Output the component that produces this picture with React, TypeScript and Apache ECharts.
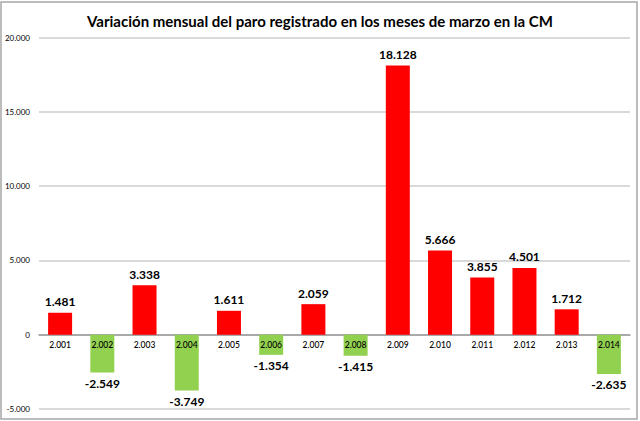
import React, { useEffect, useRef } from "react";
import * as echarts from "echarts";

const TITLE = "Variación mensual del paro registrado en los meses de marzo en la CM";
const categories = [
  "2.001", "2.002", "2.003", "2.004", "2.005", "2.006", "2.007",
  "2.008", "2.009", "2.010", "2.011", "2.012", "2.013", "2.014",
];
const values = [1481, -2549, 3338, -3749, 1611, -1354, 2059, -1415, 18128, 5666, 3855, 4501, 1712, -2635];
const yMin = -5000;
const yMax = 20000;
const yInterval = 5000;

const POS = "#FF0000";
const NEG = "#92D050";
const FONT = "Lato, 'Open Sans', sans-serif";

function fmt(v: number): string {
  const s = Math.abs(v).toString().replace(/\B(?=(\d{3})+(?!\d))/g, ".");
  return (v < 0 ? "-" : "") + s;
}

export default function App() {
  const ref = useRef<HTMLDivElement>(null);
  useEffect(() => {
    document.body.style.margin = "0";
    if (!ref.current) return;
    const chart = echarts.init(ref.current, undefined, { renderer: "svg" });
    chart.setOption({
      animation: false,
      backgroundColor: "#FFFFFF",
      title: {
        text: TITLE,
        left: "center",
        top: 8,
        textStyle: { fontFamily: FONT, fontSize: 15, fontWeight: "bold", color: "#000" },
      },
      grid: {
        left: 39,
        right: 10,
        top: 37.7,
        bottom: 12,
        containLabel: false,
        outerBoundsMode: "none",
      },
      xAxis: {
        type: "category",
        data: categories,
        axisLine: { onZero: true, lineStyle: { color: "#999999", width: 1.5 } },
        axisTick: { show: false },
        axisLabel: { show: false },
      },
      yAxis: {
        type: "value",
        min: yMin,
        max: yMax,
        interval: yInterval,
        axisLine: { show: false },
        axisTick: { show: false },
        splitLine: { lineStyle: { color: "#D9D9D9", width: 2 } },
        axisLabel: {
          fontFamily: FONT,
          fontSize: 8,
          color: "#000",
          margin: 9,
          formatter: (v: number) => fmt(v),
        },
      },
      series: [
        {
          type: "bar",
          barWidth: 24,
          data: values.map((v) => ({
            value: v,
            itemStyle: { color: v >= 0 ? POS : NEG },
            label: { position: v >= 0 ? "top" : "bottom" },
          })),
          label: {
            show: true,
            distance: 5,
            fontFamily: FONT,
            fontSize: 12,
            fontWeight: "bold",
            color: "#000",
            formatter: (p: any) => fmt(p.value),
          },
        },
        {
          type: "scatter",
          symbolSize: 0,
          silent: true,
          z: 5,
          itemStyle: { opacity: 1 },
          data: categories.map((c) => [c, 0]),
          label: {
            show: true,
            position: "bottom",
            distance: 6,
            fontFamily: FONT,
            fontSize: 8.5,
            fontWeight: 500,
            color: "#000",
            opacity: 1,
            formatter: (p: any) => p.value[0],
          },
        },
      ],
      graphic: [
        {
          type: "rect",
          shape: { x: 1, y: 2, width: 636, height: 417 },
          style: { fill: "none", stroke: "#A6A6A6", lineWidth: 1.5 },
          silent: true,
        },
      ],
    });
    return () => chart.dispose();
  }, []);
  return <div ref={ref} style={{ width: 640, height: 421 }} />;
}
